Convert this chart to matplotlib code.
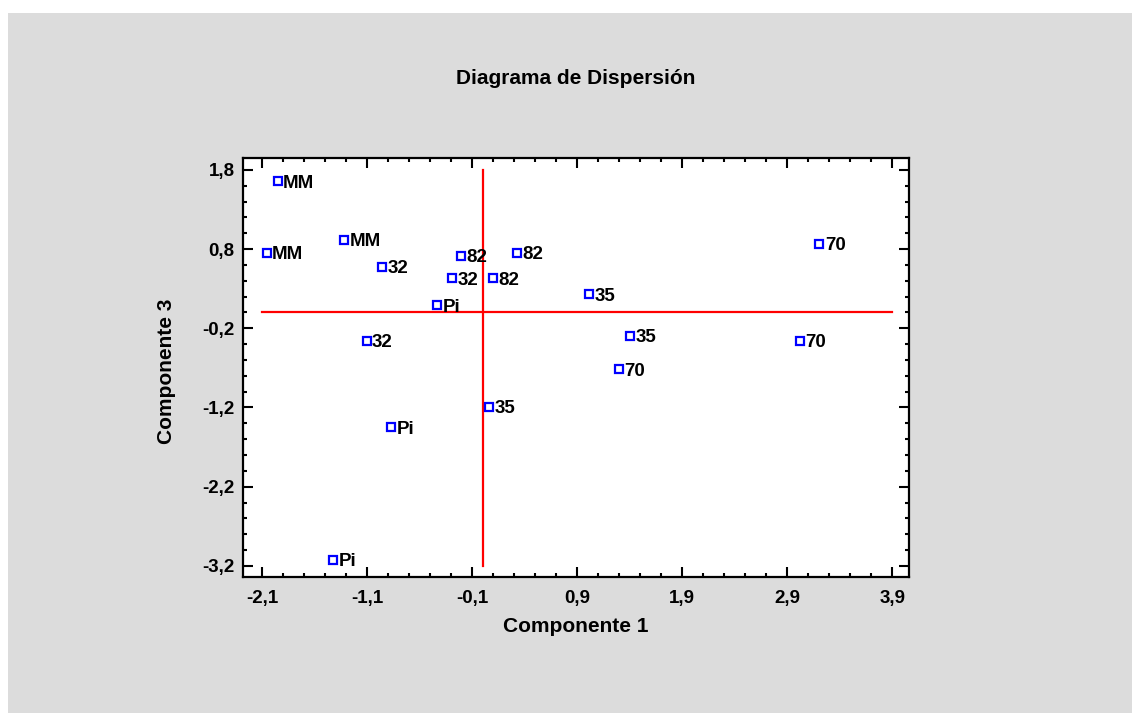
import numpy as np
import matplotlib
matplotlib.use("Agg")
import matplotlib.pyplot as plt
from matplotlib.patches import Rectangle
from matplotlib.ticker import FuncFormatter

# Datos: componente 1, componente 3 y etiqueta de cada punto
comp1 = [-1.95, -2.055, -1.316, -0.954, -0.205, -0.288, 0.097, -0.43, -1.103,
         0.331, 0.065, -0.871, -1.42, 3.208, 1.014, 1.405, 3.024, 1.303]
comp3 = [1.66, 0.756, 0.916, 0.579, 0.718, 0.433, 0.433, 0.095, -0.355,
         0.756, -1.189, -1.449, -3.124, 0.866, 0.234, -0.296, -0.359, -0.717]
etiquetas = ["MM", "MM", "MM", "32", "82", "32", "82", "Pi", "32",
             "82", "35", "Pi", "Pi", "70", "35", "35", "70", "70"]

xticks = np.arange(-2.1, 4.0, 1.0)
yticks = np.arange(-3.2, 1.9, 1.0)

plt.rcParams['font.family'] = ['Liberation Sans', 'DejaVu Sans']
plt.rcParams['font.weight'] = 'bold'

fig = plt.figure(figsize=(11.32, 7.13), dpi=100, facecolor='white')
fig.patches.append(Rectangle((8 / 1132, 0), 1, 1 - 13 / 713, transform=fig.transFigure,
                             facecolor='#dcdcdc', edgecolor='none', zorder=-10))

ax = fig.add_axes([243 / 1132, 1 - 577 / 713, (909 - 243) / 1132, (577 - 158) / 713])
ax.set_facecolor('white')

# lineas de referencia en cero
ax.plot([xticks[0], xticks[-1]], [0, 0], color='red', lw=1.6, zorder=1)
ax.plot([0, 0], [yticks[0], yticks[-1]], color='red', lw=1.6, zorder=1)

ax.plot(comp1, comp3, linestyle='none', marker='s', ms=5.8, mfc='white',
        mec='blue', mew=1.6, zorder=3)
for x, y, t in zip(comp1, comp3, etiquetas):
    ax.annotate(t, (x, y), xytext=(3.8, -1.5), textcoords='offset points',
                ha='left', va='center', fontsize=13.5, fontweight='bold', zorder=4)

ax.set_xlim(-2.28, 4.06)
ax.set_ylim(-3.34, 1.95)
ax.set_xticks(xticks)
ax.set_yticks(yticks)
ax.set_xticks(np.arange(-2.1, 3.95, 0.2), minor=True)
ax.set_yticks(np.arange(-3.2, 1.85, 0.2), minor=True)
fmt = FuncFormatter(lambda v, p: f"{v:.1f}".replace('.', ','))
ax.xaxis.set_major_formatter(fmt)
ax.yaxis.set_major_formatter(fmt)

ax.tick_params(which='both', direction='in', top=True, right=True, width=1.5, colors='black')
ax.tick_params(which='major', length=7.5, labelsize=13.5)
ax.tick_params(which='minor', length=3)
ax.tick_params(axis='x', which='major', pad=9)
ax.tick_params(axis='y', which='major', pad=6)
for s in ax.spines.values():
    s.set_linewidth(1.6)

fig.text(576 / 1132, 1 - 78 / 713, "Diagrama de Dispersión", ha='center', va='center',
         fontsize=15, fontweight='bold')
fig.text(576 / 1132, 1 - 627 / 713, "Componente 1", ha='center', va='center',
         fontsize=15, fontweight='bold')
fig.text(167 / 1132, 1 - 371 / 713, "Componente 3", ha='center', va='center',
         rotation=90, fontsize=15, fontweight='bold')

fig.savefig("out.png", dpi=100, facecolor=fig.get_facecolor())
